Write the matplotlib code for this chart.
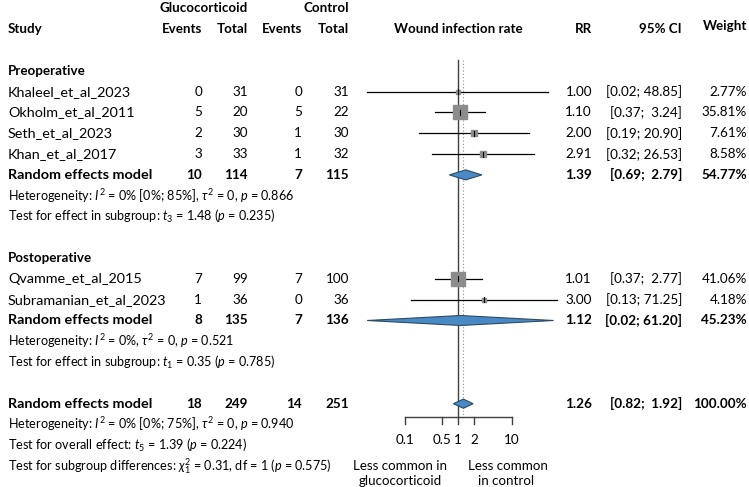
import numpy as np
import matplotlib.pyplot as plt

plt.rcParams['font.family'] = ['Lato', 'DejaVu Sans']
plt.rcParams['mathtext.fontset'] = 'custom'
plt.rcParams['mathtext.rm'] = 'Lato'
plt.rcParams['mathtext.it'] = 'Lato:italic'
plt.rcParams['mathtext.bf'] = 'Lato:bold'

# DATA

pre_studies = ['Khaleel_et_al_2023', 'Okholm_et_al_2011', 'Seth_et_al_2023', 'Khan_et_al_2017']
pre_ev_g = [0, 5, 2, 3]
pre_n_g = [31, 20, 30, 33]
pre_ev_c = [0, 5, 1, 1]
pre_n_c = [31, 22, 30, 32]
pre_rr = [1.00, 1.10, 2.00, 2.91]
pre_lo = [0.02, 0.37, 0.19, 0.32]
pre_hi = [48.85, 3.24, 20.90, 26.53]
pre_w = [2.77, 35.81, 7.61, 8.58]

post_studies = ['Qvamme_et_al_2015', 'Subramanian_et_al_2023']
post_ev_g = [7, 1]
post_n_g = [99, 36]
post_ev_c = [7, 0]
post_n_c = [100, 36]
post_rr = [1.01, 3.00]
post_lo = [0.37, 0.13]
post_hi = [2.77, 71.25]
post_w = [41.06, 4.18]

# pooled: ev_g, n_g, ev_c, n_c, rr, lo, hi, weight
pre_pool = [10, 114, 7, 115, 1.39, 0.69, 2.79, 54.77]
post_pool = [8, 135, 7, 136, 1.12, 0.02, 61.20, 45.23]
all_pool = [18, 249, 14, 251, 1.26, 0.82, 1.92, 100.00]

pre_het = r'Heterogeneity: $I^2$ = 0% [0%; 85%], $\tau^2$ = 0, $p$ = 0.866'
pre_test = r'Test for effect in subgroup: $t_3$ = 1.48 ($p$ = 0.235)'
post_het = r'Heterogeneity: $I^2$ = 0%, $\tau^2$ = 0, $p$ = 0.521'
post_test = r'Test for effect in subgroup: $t_1$ = 0.35 ($p$ = 0.785)'
all_het = r'Heterogeneity: $I^2$ = 0% [0%; 75%], $\tau^2$ = 0, $p$ = 0.940'
all_test = r'Test for overall effect: $t_5$ = 1.39 ($p$ = 0.224)'
sub_test = r'Test for subgroup differences: $\chi^2_1$ = 0.31, df = 1 ($p$ = 0.575)'

ticks = [0.1, 0.5, 1, 2, 10]
tick_labels = ['0.1', '0.5', '1', '2', '10']

# LAYOUT

W, H = 749, 487
row0, dy = 91.7, 20.8          # pixel y of first study row, row height
ylim = ((H - row0) / dy, -row0 / dy)
x_one, decade = 458.0, 53.5     # pixel x of RR=1, pixels per decade
fs = 9.6         # headers / labels
fname = 10.4     # study names, model rows
fn = 9.7         # numbers
fh = 9.1         # heterogeneity / tests
square_col = '#8c8c8c'
diamond_col = '#4a8ac4'

fig = plt.figure(figsize=(W / 100, H / 100), dpi=100)
tx = fig.add_axes([0, 0, 1, 1])
tx.set_xlim(0, W)
tx.set_ylim(*ylim)
tx.axis('off')

lo_log, hi_log = -2.0, 2.0
left_px = x_one + decade * lo_log
width_px = decade * (hi_log - lo_log)
fx = fig.add_axes([left_px / W, 0, width_px / W, 1])
fx.set_xscale('log')
fx.set_xlim(10 ** lo_log, 10 ** hi_log)
fx.set_ylim(*ylim)
fx.axis('off')
fx.patch.set_alpha(0)

col_study = 8
col_eg, col_ng, col_ec, col_nc = 202, 248, 302, 349
col_rr, col_ci, col_w = 592, 682, 747


def ci_text(lo, hi):
    return '[%.2f; %s]' % (lo, ('%.2f' % hi).rjust(5))


def table_row(y, name, eg, ng, ec, nc, rr, lo, hi, w, bold=False):
    fw = 'bold' if bold else 'normal'
    tx.text(col_study, y, name, ha='left', va='center', fontsize=fname, fontweight=fw)
    for col, v in zip([col_eg, col_ng, col_ec, col_nc], [eg, ng, ec, nc]):
        tx.text(col, y, str(v), ha='right', va='center', fontsize=fn, fontweight=fw)
    tx.text(col_rr, y, '%.2f' % rr, ha='right', va='center', fontsize=fn, fontweight=fw)
    tx.text(col_ci, y, ci_text(lo, hi), ha='right', va='center', fontsize=fn, fontweight=fw)
    tx.text(col_w, y, '%.2f%%' % w, ha='right', va='center', fontsize=fn, fontweight=fw)


def study_mark(y, rr, lo, hi, w):
    fx.plot([lo, hi], [y, y], color='black', lw=0.9, zorder=3)
    side = 2.2 * np.sqrt(w) * 0.72
    fx.plot([rr], [y], marker='s', ms=side, color=square_col, mec=square_col, zorder=4)
    fx.plot([rr, rr], [y - 0.12, y + 0.12], color='black', lw=0.8, zorder=5)


def diamond(y, rr, lo, hi, h=0.24):
    fx.fill([lo, rr, hi, rr], [y, y - h, y, y + h], facecolor=diamond_col,
            edgecolor='#2b4a66', lw=0.8, zorder=4)


# HEADERS
tx.text(col_ng, -4, 'Glucocorticoid', ha='right', va='center', fontsize=fs, fontweight='bold')
tx.text(col_nc, -4, 'Control', ha='right', va='center', fontsize=fs, fontweight='bold')
tx.text(col_study, -3, 'Study', ha='left', va='center', fontsize=fs, fontweight='bold')
for col, lab in zip([col_eg, col_ng, col_ec, col_nc], ['Events', 'Total', 'Events', 'Total']):
    tx.text(col, -3, lab, ha='right', va='center', fontsize=fs, fontweight='bold')
tx.text(x_one, -3, 'Wound infection rate', ha='center', va='center', fontsize=fs, fontweight='bold')
tx.text(col_rr, -3, 'RR', ha='right', va='center', fontsize=fs, fontweight='bold')
tx.text(col_ci, -3, '95% CI', ha='right', va='center', fontsize=fs, fontweight='bold')
tx.text(col_w, -3.15, 'Weight', ha='right', va='center', fontsize=fs, fontweight='bold')

# PREOPERATIVE
tx.text(col_study, -1, 'Preoperative', ha='left', va='center', fontsize=fs, fontweight='bold')
for i in range(len(pre_studies)):
    table_row(i, pre_studies[i], pre_ev_g[i], pre_n_g[i], pre_ev_c[i], pre_n_c[i],
              pre_rr[i], pre_lo[i], pre_hi[i], pre_w[i])
    study_mark(i, pre_rr[i], pre_lo[i], pre_hi[i], pre_w[i])
table_row(4, 'Random effects model', *pre_pool, bold=True)
diamond(4, *pre_pool[4:7])
tx.text(col_study, 5, pre_het, ha='left', va='center', fontsize=fh)
tx.text(col_study, 6, pre_test, ha='left', va='center', fontsize=fh)

# POSTOPERATIVE
tx.text(col_study, 8, 'Postoperative', ha='left', va='center', fontsize=fs, fontweight='bold')
for i in range(len(post_studies)):
    y = 9 + i
    table_row(y, post_studies[i], post_ev_g[i], post_n_g[i], post_ev_c[i], post_n_c[i],
              post_rr[i], post_lo[i], post_hi[i], post_w[i])
    study_mark(y, post_rr[i], post_lo[i], post_hi[i], post_w[i])
table_row(11, 'Random effects model', *post_pool, bold=True)
diamond(11, *post_pool[4:7])
tx.text(col_study, 12, post_het, ha='left', va='center', fontsize=fh)
tx.text(col_study, 13, post_test, ha='left', va='center', fontsize=fh)

# OVERALL
table_row(15, 'Random effects model', *all_pool, bold=True)
diamond(15, *all_pool[4:7], h=0.22)
tx.text(col_study, 16, all_het, ha='left', va='center', fontsize=fh)
tx.text(col_study, 17, all_test, ha='left', va='center', fontsize=fh)
tx.text(col_study, 18, sub_test, ha='left', va='center', fontsize=fh)

# REFERENCE LINES AND AXIS
y_axis = 15.64
fx.plot([1, 1], [-1.52, y_axis], color='#404040', lw=1.0, zorder=2)
fx.plot([all_pool[4]] * 2, [-1.52, y_axis], color='#909090', lw=0.8, ls=(0, (1, 2)), zorder=2)
fx.plot([ticks[0], ticks[-1]], [y_axis, y_axis], color='#404040', lw=1.0)
for t, lab in zip(ticks, tick_labels):
    fx.plot([t, t], [y_axis, y_axis + 0.34], color='#404040', lw=1.0)
    fx.text(t, 16.75, lab, ha='center', va='center', fontsize=fn)
fx.text(0.082, 18.0, 'Less common in', ha='center', va='center', fontsize=fs)
fx.text(0.085, 18.7, 'glucocorticoid', ha='center', va='center', fontsize=fs)
fx.text(8.6, 18.0, 'Less common', ha='center', va='center', fontsize=fs)
fx.text(8.0, 18.7, 'in control', ha='center', va='center', fontsize=fs)

fig.savefig('out.png', dpi=100)
